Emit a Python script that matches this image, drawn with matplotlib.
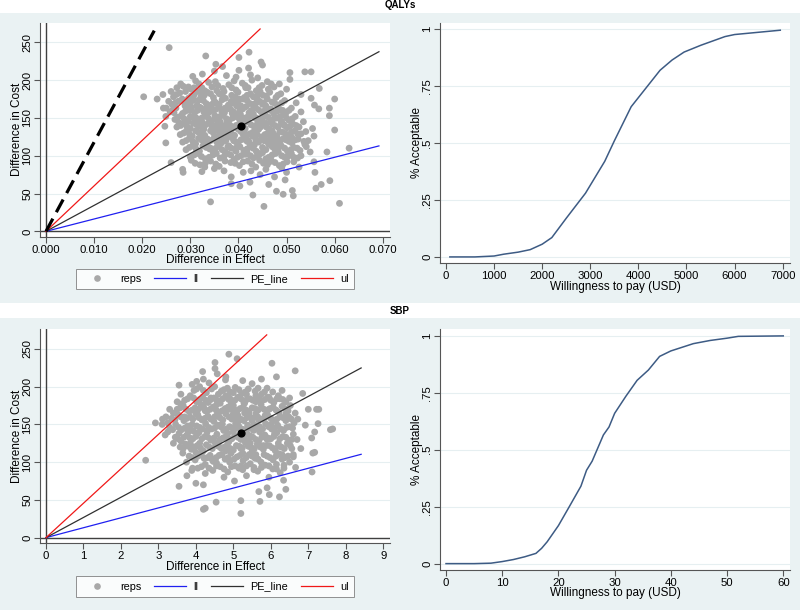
import matplotlib
matplotlib.use("Agg")
import matplotlib.pyplot as plt
from matplotlib.lines import Line2D
from matplotlib.patches import Rectangle

# ---------------- data ----------------
qaly_reps = [
    # outer points
    (0.0256, 243), (0.0332, 232), (0.0401, 230), (0.0422, 237), (0.0447, 224), (0.0450, 220),
    (0.0353, 221), (0.0367, 218), (0.0421, 216), (0.0401, 213), (0.0203, 178), (0.0231, 175),
    (0.0243, 181), (0.0244, 163), (0.0249, 152), (0.0247, 139), (0.0249, 117), (0.0260, 91),
    (0.0284, 82), (0.0285, 78), (0.0302, 94), (0.0324, 79), (0.0342, 39), (0.0385, 72),
    (0.0385, 63), (0.0403, 60), (0.0424, 65), (0.0430, 48), (0.0453, 33), (0.0463, 62),
    (0.0479, 53), (0.0493, 49), (0.0512, 54), (0.0514, 47), (0.0497, 68), (0.0559, 78),
    (0.0561, 57), (0.0572, 62), (0.0590, 67), (0.0584, 105), (0.0630, 110), (0.0610, 37),
    (0.0600, 134), (0.0589, 153), (0.0589, 163), (0.0600, 175), (0.0568, 189), (0.0551, 211),
    (0.0538, 211), (0.0507, 210), (0.0507, 201), (0.0530, 181), (0.0551, 176), (0.0558, 167),
    (0.0567, 162), (0.0554, 136), (0.0557, 126), (0.0549, 105), (0.0538, 115), (0.0557, 92),
    (0.0526, 85), (0.0515, 98),
    # edge of cloud
    (0.0260, 185), (0.0255, 172), (0.0250, 163), (0.0266, 157), (0.0272, 190), (0.0280, 195),
    (0.0305, 205), (0.0325, 208), (0.0350, 212), (0.0375, 206), (0.0395, 204), (0.0425, 207),
    (0.0440, 203), (0.0460, 198), (0.0485, 195), (0.0500, 188), (0.0520, 170), (0.0530, 158),
    (0.0535, 145), (0.0540, 132), (0.0545, 120), (0.0530, 100), (0.0515, 92), (0.0330, 85),
    (0.0370, 80), (0.0410, 78), (0.0445, 75), (0.0475, 72), (0.0500, 78), (0.0310, 90),
    # cloud
    (0.0285, 192), (0.0302, 188), (0.0318, 195), (0.0330, 186), (0.0345, 191), (0.0352, 198),
    (0.0368, 189), (0.0380, 194), (0.0395, 187), (0.0408, 196), (0.0420, 190), (0.0437, 186),
    (0.0449, 193), (0.0462, 188), (0.0311, 199), (0.0338, 197), (0.0391, 199), (0.0428, 200),
    (0.0474, 191), (0.0290, 185),
    (0.0265, 178), (0.0278, 183), (0.0296, 176), (0.0308, 181), (0.0322, 178), (0.0335, 184),
    (0.0348, 177), (0.0360, 182), (0.0373, 176), (0.0386, 180), (0.0399, 184), (0.0412, 177),
    (0.0425, 182), (0.0438, 176), (0.0451, 180), (0.0465, 184), (0.0478, 177), (0.0488, 182),
    (0.0316, 185), (0.0355, 186), (0.0402, 175), (0.0445, 185),
    (0.0262, 168), (0.0275, 172), (0.0289, 166), (0.0301, 171), (0.0314, 167), (0.0327, 173),
    (0.0340, 166), (0.0353, 170), (0.0366, 174), (0.0379, 167), (0.0392, 171), (0.0405, 166),
    (0.0418, 173), (0.0431, 168), (0.0444, 172), (0.0457, 166), (0.0470, 171), (0.0483, 167),
    (0.0496, 173), (0.0283, 175), (0.0320, 164), (0.0372, 163), (0.0410, 175), (0.0460, 175),
    (0.0258, 158), (0.0270, 163), (0.0284, 156), (0.0297, 161), (0.0309, 157), (0.0322, 163),
    (0.0334, 155), (0.0346, 160), (0.0359, 164), (0.0371, 157), (0.0384, 161), (0.0397, 155),
    (0.0409, 162), (0.0422, 157), (0.0435, 164), (0.0447, 158), (0.0460, 162), (0.0473, 156),
    (0.0486, 161), (0.0499, 157), (0.0510, 163), (0.0292, 165), (0.0351, 153), (0.0416, 165),
    (0.0455, 154),
    (0.0268, 148), (0.0281, 153), (0.0293, 146), (0.0306, 151), (0.0318, 147), (0.0331, 153),
    (0.0343, 145), (0.0356, 150), (0.0368, 154), (0.0381, 147), (0.0393, 152), (0.0406, 146),
    (0.0418, 151), (0.0431, 155), (0.0443, 148), (0.0456, 153), (0.0468, 146), (0.0481, 150),
    (0.0494, 154), (0.0505, 147), (0.0518, 152), (0.0276, 144), (0.0325, 144), (0.0387, 156),
    (0.0440, 144), (0.0490, 145),
    (0.0272, 138), (0.0287, 143), (0.0300, 136), (0.0313, 141), (0.0326, 137), (0.0338, 143),
    (0.0351, 135), (0.0363, 140), (0.0376, 144), (0.0389, 137), (0.0401, 142), (0.0414, 136),
    (0.0426, 141), (0.0439, 137), (0.0451, 143), (0.0464, 135), (0.0476, 140), (0.0489, 144),
    (0.0501, 137), (0.0513, 142), (0.0526, 138), (0.0296, 146), (0.0358, 134), (0.0420, 145),
    (0.0470, 133),
    (0.0279, 128), (0.0292, 133), (0.0304, 126), (0.0317, 131), (0.0330, 127), (0.0342, 133),
    (0.0355, 125), (0.0367, 130), (0.0380, 134), (0.0392, 127), (0.0405, 132), (0.0417, 126),
    (0.0430, 131), (0.0442, 135), (0.0455, 128), (0.0467, 133), (0.0480, 126), (0.0492, 131),
    (0.0505, 127), (0.0517, 133), (0.0530, 129), (0.0336, 122), (0.0398, 136), (0.0448, 123),
    (0.0511, 124),
    (0.0284, 118), (0.0298, 123), (0.0311, 116), (0.0323, 121), (0.0336, 117), (0.0349, 123),
    (0.0361, 115), (0.0374, 120), (0.0386, 124), (0.0399, 117), (0.0411, 122), (0.0424, 116),
    (0.0436, 121), (0.0449, 125), (0.0461, 118), (0.0474, 123), (0.0486, 116), (0.0499, 121),
    (0.0511, 117), (0.0524, 122), (0.0536, 119), (0.0380, 113), (0.0430, 126), (0.0478, 113),
    (0.0291, 108), (0.0305, 113), (0.0319, 106), (0.0333, 111), (0.0346, 107), (0.0359, 113),
    (0.0372, 105), (0.0385, 110), (0.0398, 114), (0.0411, 107), (0.0424, 112), (0.0437, 106),
    (0.0450, 111), (0.0463, 115), (0.0476, 108), (0.0489, 113), (0.0502, 106), (0.0515, 111),
    (0.0528, 107), (0.0541, 112), (0.0365, 117), (0.0442, 103),
    (0.0300, 98), (0.0316, 103), (0.0331, 96), (0.0347, 101), (0.0362, 97), (0.0377, 103),
    (0.0391, 95), (0.0405, 100), (0.0418, 104), (0.0431, 97), (0.0444, 102), (0.0457, 96),
    (0.0470, 101), (0.0483, 105), (0.0496, 98), (0.0510, 103), (0.0523, 97), (0.0395, 106),
    (0.0465, 92),
    (0.0320, 88), (0.0342, 93), (0.0360, 86), (0.0384, 91), (0.0402, 87), (0.0419, 93),
    (0.0436, 85), (0.0452, 90), (0.0468, 94), (0.0485, 87), (0.0501, 92), (0.0350, 83),
    (0.0426, 80), (0.0457, 82), (0.0490, 84),
    (0.0340, 158), (0.0362, 145), (0.0375, 162), (0.0388, 150), (0.0396, 166), (0.0404, 155),
    (0.0413, 144), (0.0427, 160), (0.0434, 150), (0.0446, 138), (0.0458, 143), (0.0366, 134),
    (0.0378, 126), (0.0383, 140), (0.0410, 128), (0.0421, 120), (0.0433, 114), (0.0453, 120),
    (0.0466, 126), (0.0472, 118), (0.0350, 172), (0.0332, 162), (0.0324, 150), (0.0347, 140),
    (0.0319, 174), (0.0308, 190), (0.0326, 182), (0.0390, 120), (0.0403, 112), (0.0416, 102),
    (0.0439, 128), (0.0485, 120), (0.0495, 140), (0.0479, 150), (0.0466, 160), (0.0452, 170),
    (0.0440, 180), (0.0415, 190), (0.0370, 185), (0.0345, 168), (0.0358, 120), (0.0342, 110),
    (0.0328, 135), (0.0312, 150), (0.0299, 160), (0.0288, 170), (0.0400, 135), (0.0410, 150),
    (0.0385, 172), (0.0372, 140),
    (0.0296, 191), (0.0324, 190), (0.0357, 193), (0.0386, 190), (0.0414, 193), (0.0443, 190),
    (0.0468, 195),
    (0.0271, 181), (0.0302, 179), (0.0329, 180), (0.0342, 182), (0.0367, 179), (0.0393, 178),
    (0.0418, 180), (0.0431, 178), (0.0458, 179), (0.0482, 180),
    (0.0269, 170), (0.0295, 169), (0.0308, 174), (0.0333, 169), (0.0360, 168), (0.0385, 169),
    (0.0399, 170), (0.0424, 169), (0.0437, 170), (0.0450, 168), (0.0476, 169), (0.0490, 170),
    (0.0264, 161), (0.0290, 159), (0.0303, 164), (0.0315, 160), (0.0328, 158), (0.0352, 161),
    (0.0365, 159), (0.0378, 163), (0.0390, 158), (0.0403, 161), (0.0428, 158), (0.0441, 161),
    (0.0453, 159), (0.0467, 162), (0.0480, 159), (0.0492, 160), (0.0505, 160),
    (0.0274, 151), (0.0287, 149), (0.0300, 152), (0.0312, 149), (0.0337, 150), (0.0349, 148),
    (0.0362, 152), (0.0375, 149), (0.0400, 150), (0.0412, 148), (0.0424, 152), (0.0437, 150),
    (0.0450, 149), (0.0462, 151), (0.0474, 149), (0.0487, 152), (0.0500, 150), (0.0512, 149),
    (0.0280, 140), (0.0293, 139), (0.0306, 143), (0.0319, 139), (0.0332, 141), (0.0345, 138),
    (0.0357, 142), (0.0370, 138), (0.0395, 140), (0.0408, 138), (0.0432, 139), (0.0445, 141),
    (0.0458, 138), (0.0470, 142), (0.0482, 138), (0.0495, 141), (0.0507, 139), (0.0520, 140),
    (0.0286, 130), (0.0298, 129), (0.0311, 133), (0.0323, 129), (0.0348, 130), (0.0361, 128),
    (0.0373, 132), (0.0386, 129), (0.0411, 131), (0.0423, 129), (0.0436, 133), (0.0461, 130),
    (0.0473, 129), (0.0486, 132), (0.0498, 129), (0.0510, 131), (0.0523, 129),
    (0.0291, 120), (0.0305, 119), (0.0317, 123), (0.0330, 119), (0.0342, 120), (0.0355, 118),
    (0.0368, 122), (0.0393, 119), (0.0405, 121), (0.0418, 119), (0.0442, 118), (0.0455, 122),
    (0.0467, 120), (0.0480, 119), (0.0492, 122), (0.0505, 119), (0.0518, 121),
    (0.0298, 111), (0.0312, 109), (0.0326, 113), (0.0340, 109), (0.0353, 110), (0.0366, 108),
    (0.0378, 112), (0.0392, 109), (0.0418, 109), (0.0430, 110), (0.0457, 108), (0.0470, 112),
    (0.0482, 109), (0.0496, 110), (0.0509, 108), (0.0522, 110),
    (0.0308, 101), (0.0323, 99), (0.0339, 98), (0.0354, 103), (0.0370, 99), (0.0384, 101),
    (0.0398, 98), (0.0412, 102), (0.0425, 100), (0.0438, 99), (0.0450, 104), (0.0463, 98),
    (0.0477, 103), (0.0490, 100), (0.0503, 99),
    (0.0331, 90), (0.0353, 89), (0.0372, 93), (0.0393, 90), (0.0410, 92), (0.0428, 89),
    (0.0444, 94), (0.0460, 88), (0.0476, 91), (0.0493, 89),
]
qaly_mean = (0.0405, 139)
# line end points (Difference in Effect, Difference in Cost); every line starts at the origin
qaly_ll_end = (0.0692, 113)
qaly_pe_end = (0.0692, 237.6)
qaly_ul_end = (0.0445, 267.7)
qaly_wtp_end = (0.0225, 265.5)

sbp_reps = [
    # outer points
    (2.66, 102.5), (2.92, 152), (3.11, 157), (3.18, 136), (3.55, 202), (3.55, 68),
    (3.76, 82), (3.89, 89), (3.91, 92), (4.00, 72), (4.20, 70), (4.18, 220), (4.02, 207),
    (4.20, 37.5), (4.25, 39), (4.54, 47), (4.51, 232), (4.51, 224), (4.57, 217), (4.88, 243),
    (5.10, 237), (4.79, 209), (5.20, 32), (5.20, 49), (5.03, 75), (5.71, 48), (5.68, 61),
    (5.90, 66), (5.96, 57), (6.23, 54), (6.34, 76), (6.40, 64), (6.03, 231), (6.15, 213),
    (6.65, 221), (6.85, 191), (7.00, 170), (7.22, 170), (7.28, 170), (7.26, 151), (7.59, 143),
    (7.65, 144), (7.17, 140), (7.09, 132), (7.12, 112), (7.17, 113), (7.10, 87), (6.66, 93),
    (6.60, 107), (6.80, 118), (6.72, 157), (6.92, 149),
    # edge of cloud
    (3.25, 140), (3.40, 125), (3.50, 180), (3.30, 170), (3.65, 112), (3.60, 190), (3.75, 100),
    (4.25, 85), (4.75, 80), (5.35, 82), (5.95, 80), (6.35, 92), (6.60, 110), (6.70, 130),
    (6.65, 165), (6.50, 185), (6.30, 195), (5.75, 210), (5.25, 208), (4.80, 213), (4.20, 210),
    (3.90, 203), (3.20, 160), (3.10, 150),
    # cloud
    (3.95, 195), (4.10, 200), (4.28, 192), (4.42, 197), (4.60, 190), (4.75, 196), (4.92, 193),
    (5.05, 199), (5.22, 191), (5.40, 197), (5.58, 194), (5.75, 190), (5.90, 198), (6.05, 193),
    (4.35, 205), (5.50, 204), (5.95, 186), (6.20, 188),
    (3.70, 182), (3.85, 188), (4.02, 180), (4.18, 186), (4.33, 179), (4.48, 185), (4.64, 181),
    (4.80, 188), (4.95, 180), (5.12, 186), (5.28, 179), (5.44, 184), (5.60, 188), (5.76, 181),
    (5.92, 186), (6.08, 179), (6.24, 184), (6.40, 180), (3.60, 177), (4.55, 176), (5.35, 190),
    (3.50, 170), (3.66, 175), (3.82, 167), (3.98, 172), (4.14, 176), (4.30, 168), (4.46, 173),
    (4.62, 166), (4.78, 171), (4.94, 176), (5.10, 168), (5.26, 173), (5.42, 166), (5.58, 171),
    (5.74, 176), (5.90, 168), (6.06, 173), (6.22, 166), (6.38, 171), (6.52, 175), (3.40, 165),
    (4.05, 163), (5.00, 164), (5.85, 162),
    (3.35, 158), (3.52, 163), (3.68, 155), (3.84, 160), (4.00, 164), (4.16, 156), (4.32, 161),
    (4.48, 154), (4.64, 159), (4.80, 164), (4.96, 157), (5.12, 162), (5.28, 155), (5.44, 160),
    (5.60, 164), (5.76, 157), (5.92, 162), (6.08, 155), (6.24, 160), (6.40, 164), (6.55, 157),
    (3.25, 152), (4.70, 151), (5.55, 150),
    (3.30, 146), (3.46, 150), (3.62, 143), (3.78, 148), (3.94, 141), (4.10, 146), (4.26, 151),
    (4.42, 144), (4.58, 149), (4.74, 142), (4.90, 147), (5.06, 151), (5.22, 144), (5.38, 149),
    (5.54, 142), (5.70, 147), (5.86, 151), (6.02, 144), (6.18, 149), (6.34, 142), (6.50, 147),
    (6.62, 152), (3.55, 138), (4.85, 138), (6.10, 138),
    (3.45, 133), (3.60, 128), (3.76, 136), (3.92, 131), (4.08, 139), (4.24, 134), (4.40, 129),
    (4.56, 137), (4.72, 132), (4.88, 127), (5.04, 135), (5.20, 130), (5.36, 138), (5.52, 133),
    (5.68, 128), (5.84, 136), (6.00, 131), (6.16, 139), (6.32, 134), (6.48, 129), (6.60, 137),
    (3.85, 125), (5.45, 125),
    (3.58, 120), (3.72, 124), (3.88, 117), (4.04, 122), (4.20, 115), (4.36, 120), (4.52, 125),
    (4.68, 118), (4.84, 123), (5.00, 116), (5.16, 121), (5.32, 126), (5.48, 119), (5.64, 124),
    (5.80, 117), (5.96, 122), (6.12, 115), (6.28, 120), (6.44, 125), (6.56, 118), (4.15, 112),
    (5.25, 112),
    (3.82, 108), (3.98, 103), (4.14, 111), (4.30, 106), (4.46, 101), (4.62, 109), (4.78, 104),
    (4.94, 112), (5.10, 107), (5.26, 102), (5.42, 110), (5.58, 105), (5.74, 100), (5.90, 108),
    (6.06, 103), (6.22, 111), (6.38, 106), (6.50, 100), (4.00, 113), (5.50, 114),
    (4.05, 92), (4.25, 97), (4.45, 89), (4.65, 94), (4.85, 87), (5.05, 95), (5.25, 90),
    (5.45, 98), (5.65, 88), (5.85, 96), (6.05, 91), (6.25, 86), (4.55, 99), (5.55, 93),
    (6.15, 97),
    (4.50, 160), (4.70, 150), (4.90, 170), (5.10, 145), (5.30, 165), (5.50, 155), (5.70, 140),
    (5.90, 130), (4.30, 140), (4.60, 125), (4.80, 115), (5.00, 140), (5.20, 118), (5.40, 128),
    (5.60, 110), (5.80, 122), (6.00, 150), (6.20, 125), (4.20, 175), (4.40, 185), (4.90, 185),
    (5.30, 178), (5.60, 180), (3.90, 150), (4.10, 125), (6.40, 155), (6.30, 110), (4.90, 100),
    (5.20, 95), (4.40, 105), (3.70, 160), (3.80, 140), (5.00, 175), (5.15, 155), (4.85, 132),
    (5.45, 145), (5.65, 160), (5.95, 170), (4.65, 178), (4.25, 168),
    (4.02, 197), (4.20, 195), (4.50, 200), (4.68, 194), (4.84, 198), (5.00, 192), (5.15, 196),
    (5.32, 193), (5.66, 198), (5.83, 193),
    (3.78, 184), (3.94, 185), (4.10, 183), (4.26, 182), (4.40, 183), (4.56, 182), (4.72, 184),
    (4.88, 183), (5.04, 182), (5.20, 184), (5.36, 183), (5.52, 182), (5.68, 184), (5.84, 183),
    (6.00, 182), (6.16, 184), (6.32, 183),
    (3.58, 172), (3.74, 170), (3.90, 169), (4.06, 170), (4.22, 171), (4.38, 170), (4.54, 169),
    (4.70, 168), (4.86, 173), (5.02, 170), (5.18, 171), (5.34, 169), (5.50, 172), (5.66, 169),
    (5.82, 170), (5.98, 171), (6.14, 169), (6.30, 174), (6.46, 168),
    (3.44, 156), (3.60, 160), (3.76, 158), (3.92, 157), (4.08, 159), (4.24, 158), (4.40, 157),
    (4.56, 162), (4.72, 156), (4.88, 160), (5.04, 158), (5.20, 157), (5.36, 159), (5.52, 158),
    (5.68, 156), (5.84, 159), (6.00, 158), (6.16, 157), (6.32, 159), (6.48, 160),
    (3.38, 143), (3.54, 146), (3.70, 145), (3.86, 144), (4.02, 148), (4.18, 144), (4.34, 146),
    (4.50, 145), (4.66, 147), (4.82, 144), (4.98, 145), (5.14, 148), (5.30, 143), (5.46, 146),
    (5.62, 145), (5.78, 144), (5.94, 147), (6.10, 145), (6.26, 144), (6.42, 146), (6.58, 145),
    (3.52, 131), (3.68, 133), (3.84, 132), (4.00, 134), (4.16, 131), (4.32, 133), (4.48, 132),
    (4.64, 130), (4.80, 134), (4.96, 131), (5.12, 133), (5.28, 132), (5.44, 135), (5.60, 130),
    (5.76, 133), (5.92, 132), (6.08, 134), (6.24, 131), (6.40, 133), (6.56, 130),
    (3.66, 118), (3.80, 121), (3.96, 120), (4.12, 119), (4.28, 123), (4.44, 118), (4.60, 121),
    (4.76, 120), (4.92, 118), (5.08, 122), (5.24, 119), (5.40, 121), (5.56, 118), (5.72, 120),
    (5.88, 122), (6.04, 119), (6.20, 121), (6.36, 118), (6.52, 122),
    (3.90, 106), (4.06, 108), (4.22, 105), (4.38, 109), (4.54, 106), (4.70, 110), (4.86, 106),
    (5.02, 104), (5.18, 109), (5.34, 106), (5.50, 108), (5.66, 104), (5.82, 110), (5.98, 106),
    (6.14, 108), (6.30, 104), (6.46, 108),
    (4.15, 94), (4.35, 92), (4.55, 95), (4.75, 91), (4.95, 94), (5.15, 92), (5.35, 95),
    (5.55, 90), (5.75, 93), (5.95, 95), (6.15, 91), (6.35, 96),
]
sbp_mean = (5.20, 139)
sbp_ll_end = (8.41, 110.4)
sbp_pe_end = (8.41, 224.8)
sbp_ul_end = (5.89, 268.6)

qaly_wtp = [80, 600, 1000, 1200, 1500, 1750, 2000, 2200, 2500, 2900, 3300, 3500, 3850,
            4000, 4450, 4700, 4950, 5300, 5800, 6000, 6950]
qaly_accept = [0.0, 0.0, 0.004, 0.012, 0.021, 0.032, 0.056, 0.085, 0.17, 0.28, 0.42, 0.51,
               0.66, 0.70, 0.82, 0.865, 0.90, 0.93, 0.968, 0.977, 0.996]

sbp_wtp = [0, 5, 8, 10, 12, 14, 16, 17, 18, 20, 22, 24, 25, 26, 28, 29, 30, 32, 34, 36, 38,
           40, 44, 47, 50, 52, 60]
sbp_accept = [0.0, 0.0, 0.002, 0.009, 0.018, 0.03, 0.045, 0.067, 0.096, 0.167, 0.253, 0.34,
              0.41, 0.45, 0.565, 0.60, 0.66, 0.735, 0.805, 0.85, 0.91, 0.934, 0.966, 0.98,
              0.99, 0.998, 1.0]

qaly_xticks = [0, 0.01, 0.02, 0.03, 0.04, 0.05, 0.06, 0.07]
qaly_xticklabels = ["0.000", "0.010", "0.020", "0.030", "0.040", "0.050", "0.060", "0.070"]
sbp_xticks = [0, 1, 2, 3, 4, 5, 6, 7, 8, 9]
cost_yticks = [0, 50, 100, 150, 200, 250]
ceac_yticks = [0, 0.25, 0.5, 0.75, 1]
ceac_yticklabels = ["0", ".25", ".5", ".75", "1"]
qaly_wtp_ticks = [0, 1000, 2000, 3000, 4000, 5000, 6000, 7000]
sbp_wtp_ticks = [0, 10, 20, 30, 40, 50, 60]
legend_labels = ["reps", "ll", "PE_line", "ul"]

# ---------------- style ----------------
plt.rcParams["font.family"] = ["Liberation Sans", "DejaVu Sans"]
BG = "#EAF2F3"
GRID = "#E6EFF1"
AXC = "#555555"
ZERO = "#404040"
DOT = "#A8A8A8"
CURVE = "#3D5B84"
FS = 8.2
W, H = 800, 610

fig = plt.figure(figsize=(8, 6.1), dpi=100)
fig.patch.set_facecolor(BG)


def fr(left, top, right, bottom):
    return [left / W, 1 - bottom / H, (right - left) / W, (bottom - top) / H]


fig.add_artist(Rectangle((0, 1 - 12.7 / H), 1, 12.7 / H, transform=fig.transFigure,
                         facecolor="white", edgecolor="none", zorder=0))
fig.add_artist(Rectangle((0, 1 - 318 / H), 1, 15.5 / H, transform=fig.transFigure,
                         facecolor="white", edgecolor="none", zorder=0))
fig.text(0.5, 1 - 5 / H, "QALYs", ha="center", va="center", fontsize=7, fontweight="bold")
fig.text(0.5, 1 - 311 / H, "SBP", ha="center", va="center", fontsize=7, fontweight="bold")


def style_axes(ax, yticks, ylabels):
    ax.set_facecolor("white")
    for s in ("top", "right"):
        ax.spines[s].set_visible(False)
    for s in ("left", "bottom"):
        ax.spines[s].set_color(AXC)
        ax.spines[s].set_linewidth(0.8)
    ax.tick_params(direction="out", length=4, width=0.8, color=AXC, labelsize=FS, pad=1.5)
    ax.set_yticks(yticks)
    ax.set_yticklabels(ylabels, rotation=90, va="center")
    for yv in yticks:
        ax.axhline(yv, color=GRID, lw=0.8, zorder=0)


def place_labels(ax, xlabel, ylabel, xlab_y, ylab_x):
    ax.set_xlabel(xlabel, fontsize=FS + 0.3)
    ax.set_ylabel(ylabel, fontsize=FS + 0.3)
    ax.xaxis.set_label_coords(0.5, xlab_y)
    ax.yaxis.set_label_coords(ylab_x, 0.5)
    ax.xaxis.label.set_va("center")
    ax.yaxis.label.set_va("center")


def scatter_panel(rect, reps, mean, ll_end, pe_end, ul_end, xlim, ylim, xticks, xticklabels,
                  xlab_y, wtp_end=None):
    ax = fig.add_axes(rect)
    style_axes(ax, cost_yticks, [str(v) for v in cost_yticks])
    ax.set_xlim(xlim)
    ax.set_ylim(ylim)
    ax.set_xticks(xticks)
    ax.set_xticklabels(xticklabels)
    ax.axhline(0, color=ZERO, lw=1.0, zorder=1)
    ax.axvline(0, color=ZERO, lw=1.0, zorder=1)
    xs = [p[0] for p in reps]
    ys = [p[1] for p in reps]
    ax.scatter(xs, ys, s=24, color=DOT, edgecolors="none", zorder=2)
    ax.plot([0, ll_end[0]], [0, ll_end[1]], color="#2020F0", lw=0.9, zorder=3)
    ax.plot([0, pe_end[0]], [0, pe_end[1]], color="#303030", lw=0.9, zorder=3)
    ax.plot([0, ul_end[0]], [0, ul_end[1]], color="#F01818", lw=0.9, zorder=3)
    if wtp_end is not None:
        ax.plot([0, wtp_end[0]], [0, wtp_end[1]], color="black", lw=2.3,
                dashes=(4.5, 2.3), zorder=3)
    ax.scatter([mean[0]], [mean[1]], s=24, color="black", zorder=4)
    place_labels(ax, "Difference in Effect", "Difference in Cost", xlab_y, -0.0666)
    return ax


def ceac_panel(rect, wtp, acc, xlim, xticks, xlab_y):
    ax = fig.add_axes(rect)
    style_axes(ax, ceac_yticks, ceac_yticklabels)
    ax.set_xlim(xlim)
    ax.set_ylim(-0.028, 1.029)
    ax.set_xticks(xticks)
    ax.set_xticklabels([str(v) for v in xticks])
    ax.plot(wtp, acc, color=CURVE, lw=1.1, zorder=3)
    place_labels(ax, "Willingness to pay (USD)", "% Acceptable", xlab_y, -0.0666)
    return ax


ax1 = scatter_panel(fr(40, 22.7, 390, 237), qaly_reps, qaly_mean, qaly_ll_end, qaly_pe_end,
                    qaly_ul_end, (-0.00125, 0.0715), (-7.5, 276), qaly_xticks,
                    qaly_xticklabels, -0.108, wtp_end=qaly_wtp_end)
ax2 = ceac_panel(fr(440, 22.7, 790, 263.3), qaly_wtp, qaly_accept, (-125, 7152),
                 qaly_wtp_ticks, -0.097)
ax3 = scatter_panel(fr(40, 329.3, 390, 543.3), sbp_reps, sbp_mean, sbp_ll_end, sbp_pe_end,
                    sbp_ul_end, (-0.16, 9.18), (-7.5, 276), sbp_xticks,
                    [str(v) for v in sbp_xticks], -0.112)
ax4 = ceac_panel(fr(440, 329.3, 790, 570), sbp_wtp, sbp_accept, (-1.07, 61.2),
                 sbp_wtp_ticks, -0.097)


def add_legend(ycenter):
    handles = [
        Line2D([], [], marker="o", linestyle="none", markersize=4.8, color=DOT,
               markeredgecolor="none"),
        Line2D([], [], color="#2020F0", lw=0.9),
        Line2D([], [], color="#303030", lw=0.9),
        Line2D([], [], color="#F01818", lw=0.9),
    ]
    leg = fig.legend(handles, legend_labels, ncol=4, loc="center",
                     bbox_to_anchor=(215 / W, 1 - ycenter / H), bbox_transform=fig.transFigure,
                     fontsize=7.8, frameon=True, fancybox=False, handlelength=2.9,
                     columnspacing=1.2, handletextpad=0.7, borderpad=0.5)
    leg.get_frame().set_edgecolor("#777777")
    leg.get_frame().set_linewidth(0.7)
    leg.get_frame().set_facecolor("white")


add_legend(279)
add_legend(586.5)

fig.savefig("out.png", dpi=100, facecolor=fig.get_facecolor())
